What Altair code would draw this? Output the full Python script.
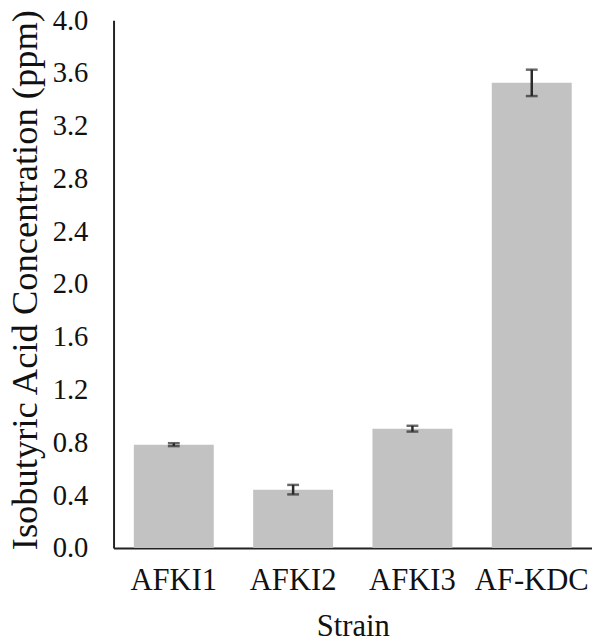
import altair as alt
import pandas as pd

strains = ["AFKI1", "AFKI2", "AFKI3", "AF-KDC"]
values = [0.783, 0.442, 0.904, 3.525]
errors = [0.011, 0.036, 0.022, 0.10]

df = pd.DataFrame({"Strain": strains, "value": values, "err": errors})
df["lo"] = df["value"] - df["err"]
df["hi"] = df["value"] + df["err"]

FONT = "Liberation Serif"

x = alt.X("Strain:N", sort=strains, title="Strain",
          scale=alt.Scale(paddingInner=0.33, paddingOuter=0.17),
          axis=alt.Axis(labelAngle=0, ticks=False, labelPadding=18, titlePadding=17,
                        labelFontSize=31, titleFontSize=31,
                        domainColor="#222", domainWidth=2))
y = alt.Y("value:Q", title="Isobutyric Acid Concentration (ppm)",
          scale=alt.Scale(domain=[0, 4.0]),
          axis=alt.Axis(values=[round(0.4 * i, 1) for i in range(11)], format=".1f",
                        ticks=False, grid=False, labelPadding=26, titlePadding=8,
                        labelFontSize=29, titleFontSize=37, titleY=263,
                        domainColor="#222", domainWidth=2))

bars = alt.Chart(df).mark_bar(color="#c2c2c2").encode(x=x, y=y)
rules = alt.Chart(df).mark_rule(color="#2a2a2a", strokeWidth=2.5).encode(
    x=alt.X("Strain:N", sort=strains), y="lo:Q", y2="hi:Q")
caps_hi = alt.Chart(df).mark_tick(color="#2a2a2a", thickness=2.5, size=12).encode(
    x=alt.X("Strain:N", sort=strains), y="hi:Q")
caps_lo = alt.Chart(df).mark_tick(color="#2a2a2a", thickness=2.5, size=12).encode(
    x=alt.X("Strain:N", sort=strains), y="lo:Q")

chart = alt.layer(bars, rules, caps_hi, caps_lo).properties(
    width=485, height=535,
    autosize=alt.AutoSizeParams(type="none"),
    padding={"left": 107, "top": 8, "right": 0, "bottom": 93},
).configure_view(stroke=None).configure_axis(
    labelFont=FONT, titleFont=FONT,
    labelColor="#111", titleColor="#111", titleFontWeight="normal",
)

chart.save("out.html", embed_options={"renderer": "svg", "actions": False})
